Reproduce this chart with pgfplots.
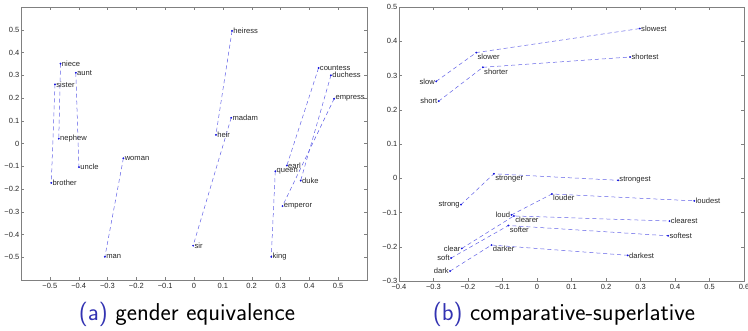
\documentclass[border=0pt]{standalone}
\usepackage{fontspec}
\usepackage{pgfplots}
\usepackage{pgfplotstable}
\pgfplotsset{compat=1.18}
\newfontfamily\ticklab{Liberation Sans}
\definecolor{beamerblue}{RGB}{51,51,178}
\definecolor{lnblue}{RGB}{95,95,230}
\definecolor{dotblue}{RGB}{20,20,220}

\pgfplotstableread{
x y label
-0.482 0.260 sister
-0.495 -0.173 brother
-0.463 0.351 niece
-0.469 0.021 nephew
-0.410 0.311 aunt
-0.399 -0.104 uncle
-0.245 -0.065 woman
-0.309 -0.498 man
0.132 0.495 heiress
0.076 0.038 heir
0.129 0.113 madam
-0.003 -0.449 sir
0.432 0.332 countess
0.322 -0.097 earl
0.475 0.300 duchess
0.370 -0.163 duke
0.486 0.197 empress
0.307 -0.275 emperor
0.282 -0.122 queen
0.268 -0.498 king
}\gendertable

\pgfplotstableread{
x y label
-0.292 0.283 slow
-0.285 0.225 short
-0.220 -0.077 strong
-0.074 -0.107 loud
-0.218 -0.205 clear
-0.249 -0.233 soft
-0.252 -0.271 dark
}\basetable

\pgfplotstableread{
x y label
-0.176 0.367 slower
-0.157 0.324 shorter
-0.125 0.013 stronger
0.043 -0.046 louder
-0.067 -0.110 clearer
-0.083 -0.138 softer
-0.132 -0.195 darker
}\comptable

\pgfplotstableread{
x y label
0.298 0.437 slowest
0.270 0.354 shortest
0.235 -0.006 strongest
0.456 -0.066 loudest
0.384 -0.125 clearest
0.380 -0.168 softest
0.263 -0.225 darkest
}\suptable

\pgfplotsset{
  refaxis/.style={
    scale only axis, anchor=south west, clip=false,
    tick align=inside, major tick length=3pt,
    axis line style={black!50}, tick style={black!50},
    ticklabel style={font=\ticklab\fontsize{7.5}{9}\selectfont, text=black!85},
    yticklabel style={inner sep=1.5pt},
  },
  pairline/.style={lnblue, dash pattern=on 4pt off 3pt, line width=0.5pt, no marks},
  dots/.style={only marks, mark=*, mark size=0.7pt, dotblue,
    nodes near coords, point meta=explicit symbolic,
    every node near coord/.append style={font=\ticklab\fontsize{7.6}{9}\selectfont, text=black!85, inner sep=1.2pt}},
}

\begin{document}
\begin{tikzpicture}
\useasboundingbox (0,0) rectangle (748pt,330pt);

\begin{axis}[refaxis, at={(21pt,50pt)}, width=346pt, height=273pt,
  xmin=-0.6, xmax=0.6, ymin=-0.6, ymax=0.6,
  xtick={-0.5,-0.4,-0.3,-0.2,-0.1,0,0.1,0.2,0.3,0.4,0.5},
  xticklabels={−0.5,−0.4,−0.3,−0.2,−0.1,0,0.1,0.2,0.3,0.4,0.5},
  ytick={-0.5,-0.4,-0.3,-0.2,-0.1,0,0.1,0.2,0.3,0.4,0.5},
  yticklabels={−0.5,−0.4,−0.3,−0.2,−0.1,0,0.1,0.2,0.3,0.4,0.5}]
\addplot[pairline] coordinates {(-0.482,0.260) (-0.495,-0.173)};
\addplot[pairline] coordinates {(-0.463,0.351) (-0.469,0.021)};
\addplot[pairline] coordinates {(-0.410,0.311) (-0.399,-0.104)};
\addplot[pairline] coordinates {(-0.245,-0.065) (-0.309,-0.498)};
\addplot[pairline] coordinates {(0.132,0.495) (0.076,0.038)};
\addplot[pairline] coordinates {(0.129,0.113) (-0.003,-0.449)};
\addplot[pairline] coordinates {(0.432,0.332) (0.322,-0.097)};
\addplot[pairline] coordinates {(0.475,0.300) (0.370,-0.163)};
\addplot[pairline] coordinates {(0.486,0.197) (0.307,-0.275)};
\addplot[pairline] coordinates {(0.282,-0.122) (0.268,-0.498)};
\addplot[dots, every node near coord/.append style={anchor=west}] table[x=x,y=y,meta=label] {\gendertable};
\end{axis}

\begin{axis}[refaxis, at={(399pt,49pt)}, width=345pt, height=274pt,
  xmin=-0.4, xmax=0.6, ymin=-0.3, ymax=0.5,
  xtick={-0.4,-0.3,-0.2,-0.1,0,0.1,0.2,0.3,0.4,0.5,0.6},
  xticklabels={−0.4,−0.3,−0.2,−0.1,0,0.1,0.2,0.3,0.4,0.5,0.6},
  ytick={-0.3,-0.2,-0.1,0,0.1,0.2,0.3,0.4,0.5},
  yticklabels={−0.3,−0.2,−0.1,0,0.1,0.2,0.3,0.4,0.5}]
\addplot[pairline] coordinates {(-0.292,0.283) (-0.176,0.367) (0.298,0.437)};
\addplot[pairline] coordinates {(-0.285,0.225) (-0.157,0.324) (0.270,0.354)};
\addplot[pairline] coordinates {(-0.220,-0.077) (-0.125,0.013) (0.235,-0.006)};
\addplot[pairline] coordinates {(-0.074,-0.107) (0.043,-0.046) (0.456,-0.066)};
\addplot[pairline] coordinates {(-0.218,-0.205) (-0.067,-0.110) (0.384,-0.125)};
\addplot[pairline] coordinates {(-0.249,-0.233) (-0.083,-0.138) (0.380,-0.168)};
\addplot[pairline] coordinates {(-0.252,-0.271) (-0.132,-0.195) (0.263,-0.225)};
\addplot[dots, every node near coord/.append style={anchor=east}] table[x=x,y=y,meta=label] {\basetable};
\addplot[dots, every node near coord/.append style={anchor=north west}] table[x=x,y=y,meta=label] {\comptable};
\addplot[dots, every node near coord/.append style={anchor=west}] table[x=x,y=y,meta=label] {\suptable};
\end{axis}

\node[anchor=base, font=\sffamily\fontsize{24.4}{28}\selectfont] at (187pt,10pt) {\textcolor{beamerblue}{(a)} gender equivalence};
\node[anchor=base, font=\sffamily\fontsize{24.4}{28}\selectfont] at (564pt,10pt) {\textcolor{beamerblue}{(b)} comparative-superlative};
\end{tikzpicture}
\end{document}
